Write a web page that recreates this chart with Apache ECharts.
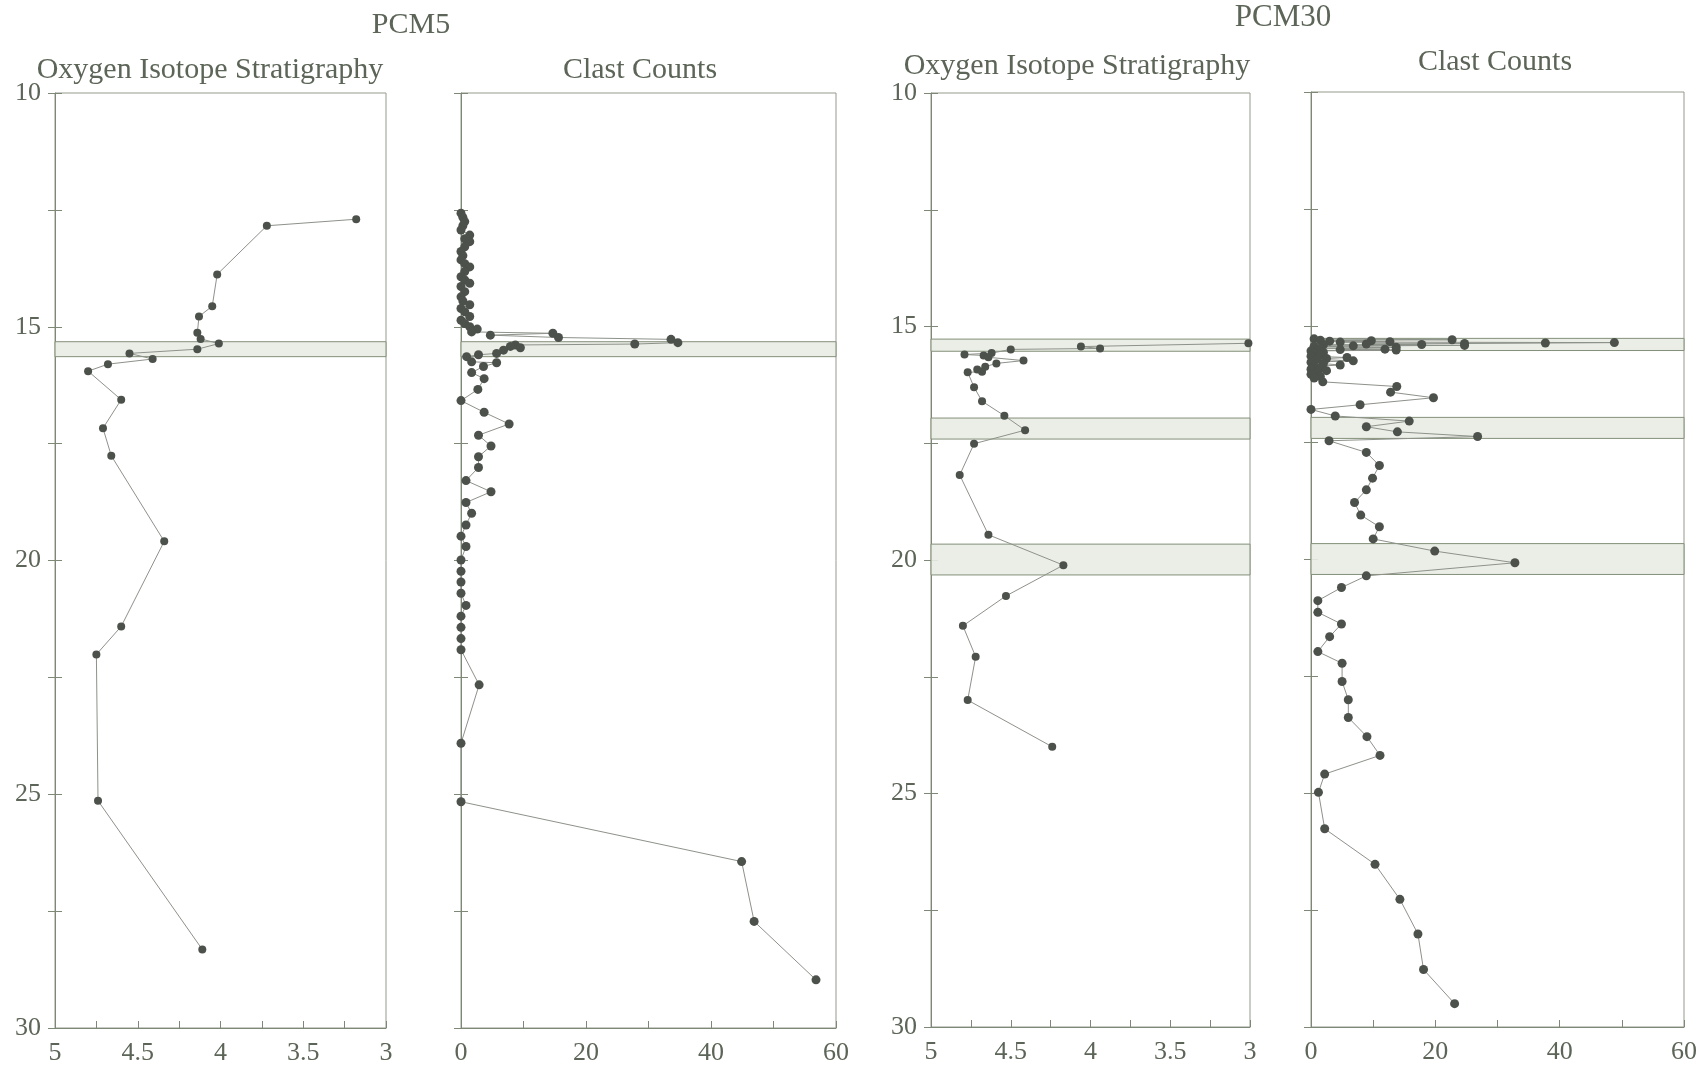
<!DOCTYPE html>
<html>
<head>
<meta charset="utf-8">
<title>PCM5 / PCM30</title>
<script src="https://cdn.jsdelivr.net/npm/echarts@6/dist/echarts.min.js"></script>
<style>
  html, body { margin: 0; padding: 0; background: #ffffff; }
  #chart { width: 1701px; height: 1074px; }
</style>
</head>
<body>
<div id="chart"></div>
<script>
// ---- Core PCM5: oxygen isotope stratigraphy (depth, value) ----
const pcm5IsoDepth = [12.70, 12.84, 13.88, 14.56, 14.78, 15.13, 15.26, 15.36, 15.48, 15.57, 15.69, 15.80, 15.95, 16.56, 17.17, 17.76, 19.59, 21.41, 22.01, 25.14, 28.32];
const pcm5IsoValue = [3.18, 3.72, 4.02, 4.05, 4.13, 4.14, 4.12, 4.01, 4.14, 4.55, 4.41, 4.68, 4.80, 4.60, 4.71, 4.66, 4.34, 4.60, 4.75, 4.74, 4.11];

// ---- Core PCM5: clast counts ----
const pcm5ClastDepth = [12.57, 12.66, 12.75, 12.84, 12.93, 13.04, 13.12, 13.18, 13.29, 13.39, 13.48, 13.57, 13.65, 13.72, 13.82, 13.93, 14.00, 14.07, 14.14, 14.25, 14.36, 14.45, 14.53, 14.61, 14.68, 14.78, 14.86, 14.93, 15.00, 15.05, 15.11,
  15.14, 15.18, 15.23, 15.27, 15.34, 15.37, 15.39, 15.42, 15.45, 15.50, 15.57, 15.60, 15.64, 15.75, 15.77, 15.85, 15.98, 16.11, 16.34, 16.58, 16.83, 17.08, 17.32, 17.55, 17.78, 18.01, 18.29, 18.53, 18.76, 18.99, 19.24, 19.48, 19.70, 19.99, 20.23, 20.46, 20.70, 20.96, 21.19, 21.43, 21.67, 21.91, 22.66, 23.91, 25.16, 26.44, 27.72, 28.97];
const pcm5ClastValue = [0, 0.3, 0.6, 0.3, 0, 1.4, 0.6, 1.4, 0.6, 0, 0.3, 0, 0.6, 1.4, 0.6, 0, 0.6, 1.4, 0, 0.6, 0, 0.3, 1.4, 0, 0.6, 1.4, 0, 0.6, 1.4, 2.6, 1.7,
  14.7, 4.7, 15.6, 33.6, 34.7, 27.8, 8.7, 7.9, 9.5, 6.8, 5.7, 2.8, 0.9, 1.7, 5.7, 3.6, 1.7, 3.7, 2.7, 0, 3.7, 7.7, 2.8, 4.8, 2.8, 2.8, 0.8, 4.8, 0.8, 1.7, 0.8, 0, 0.8, 0, 0, 0, 0, 0.8, 0, 0, 0, 0, 2.9, 0, 0, 44.9, 46.9, 56.8];

// ---- Core PCM30: oxygen isotope stratigraphy ----
const pcm30IsoDepth = [15.36, 15.43, 15.47, 15.49, 15.57, 15.60, 15.62, 15.66, 15.73, 15.79, 15.86, 15.92, 15.97, 15.98, 16.30, 16.60, 16.91, 17.22, 17.51, 18.18, 19.46, 20.11, 20.77, 21.41, 22.07, 23.00, 24.00];
const pcm30IsoValue = [3.01, 4.06, 3.94, 4.50, 4.62, 4.79, 4.67, 4.64, 4.42, 4.59, 4.66, 4.71, 4.68, 4.77, 4.73, 4.68, 4.54, 4.41, 4.73, 4.82, 4.64, 4.17, 4.53, 4.80, 4.72, 4.77, 4.24];

// ---- Core PCM30: clast counts ----
const pcm30ClastDepth = [15.28, 15.30, 15.31, 15.32, 15.33, 15.34, 15.35, 15.36, 15.37, 15.38, 15.39, 15.40, 15.41, 15.42, 15.43, 15.44, 15.46, 15.48, 15.50, 15.51, 15.52, 15.54, 15.57, 15.60, 15.62, 15.65, 15.68, 15.70, 15.72, 15.75, 15.78, 15.81, 15.84, 15.87, 15.90, 15.93, 15.96, 16.00, 16.04, 16.08, 16.12,
  16.20, 16.30, 16.42, 16.54, 16.69, 16.79, 16.93, 17.04, 17.16, 17.27, 17.37, 17.46, 17.71, 17.99, 18.26, 18.51, 18.78, 19.05, 19.30, 19.56, 19.82, 20.07, 20.35, 20.60, 20.88, 21.13, 21.38, 21.65, 21.97, 22.22, 22.61, 23.00, 23.38, 23.79, 24.19, 24.59, 24.98, 25.76, 26.52, 27.27, 28.01, 28.77, 29.50];
const pcm30ClastValue = [0.5, 22.7, 1.5, 9.7, 3.0, 12.7, 4.7, 48.8, 37.7, 24.7, 8.9, 17.8, 2.0, 24.7, 6.8, 0.5, 13.7, 1.5, 11.9, 4.7, 13.7, 0, 2.0, 0.5, 1.5, 0, 5.8, 2.5, 1.0, 6.8, 0, 2.0, 4.7, 0.5, 1.5, 0, 2.5, 1.0, 0, 1.5, 0.5,
  1.9, 13.8, 12.8, 19.7, 7.9, 0, 3.9, 15.8, 8.9, 13.9, 26.8, 2.9, 8.9, 11.0, 9.9, 8.9, 7.0, 8.0, 11.0, 10.0, 19.9, 32.8, 8.9, 4.9, 1.1, 1.1, 4.9, 3.0, 1.1, 5.0, 5.0, 6.0, 6.0, 9.0, 11.1, 2.2, 1.2, 2.2, 10.3, 14.3, 17.2, 18.1, 23.1];

// ---- Shaded depth intervals ----
const pcm5Bands = [[15.32, 15.64]];
const pcm30Bands = [[15.27, 15.53], [16.96, 17.41], [19.66, 20.32]];

// ---- Axis ranges and tick labels ----
const depthRange = [10, 30];
const isoRange = [3, 5];
const clastRange = [0, 60];
const depthLabels = [10, 15, 20, 25, 30];
const isoLabels = [5, 4.5, 4, 3.5, 3];
const clastLabels = [0, 20, 40, 60];

const FONT = '"Liberation Serif", "Times New Roman", Times, serif';
const TEXT = '#5c6557';
const AXIS = '#7d8876';
const FRAME = '#939b8d';
const LINE = '#8d928a';
const DOT = '#4c514b';

const grids = [
  { left: 55, top: 93, width: 331, height: 935 },
  { left: 461, top: 93, width: 375, height: 935 },
  { left: 931, top: 93, width: 319, height: 934 },
  { left: 1311, top: 92, width: 373, height: 935 }
].map(g => Object.assign({ show: true, borderColor: FRAME, borderWidth: 1, backgroundColor: 'transparent' }, g));

function onList(list) {
  return v => (list.some(t => Math.abs(t - v) < 1e-6) ? String(v) : '');
}

function xAxisFor(gi, range, step, labels, inverse) {
  return {
    type: 'value', gridIndex: gi, min: range[0], max: range[1], interval: step, inverse: inverse,
    position: 'bottom',
    axisLine: { show: true, onZero: false, lineStyle: { color: AXIS, width: 1 } },
    axisTick: { show: true, inside: true, length: 7, lineStyle: { color: AXIS } },
    axisLabel: { show: true, margin: 12, color: TEXT, fontFamily: FONT, fontSize: 26, formatter: onList(labels) },
    splitLine: { show: false }
  };
}

function yAxesFor(gi, withLabels) {
  const base = {
    type: 'value', gridIndex: gi, min: depthRange[0], max: depthRange[1], interval: 2.5, inverse: true,
    position: 'left', splitLine: { show: false }
  };
  return [
    Object.assign({}, base, {
      axisLine: { show: true, onZero: false, lineStyle: { color: AXIS, width: 1 } },
      axisTick: { show: true, inside: false, length: 7, lineStyle: { color: AXIS } },
      axisLabel: { show: withLabels, margin: 14, color: TEXT, fontFamily: FONT, fontSize: 26, formatter: onList(depthLabels) }
    }),
    Object.assign({}, base, {
      axisLine: { show: false, onZero: false },
      axisTick: { show: true, inside: true, length: 7, lineStyle: { color: AXIS } },
      axisLabel: { show: false }
    })
  ];
}

const xAxes = [
  xAxisFor(0, isoRange, 0.25, isoLabels, true),
  xAxisFor(1, clastRange, 10, clastLabels, false),
  xAxisFor(2, isoRange, 0.25, isoLabels, true),
  xAxisFor(3, clastRange, 10, clastLabels, false)
];
const yAxes = [].concat(yAxesFor(0, true), yAxesFor(1, false), yAxesFor(2, true), yAxesFor(3, false));

function zip(depth, value) {
  return depth.map((d, i) => [value[i], d]);
}

function profile(name, gi, depth, value, bands, dotSize) {
  return {
    name: name, type: 'line', xAxisIndex: gi, yAxisIndex: gi * 2,
    data: zip(depth, value),
    symbol: 'circle', symbolSize: dotSize, showSymbol: true,
    lineStyle: { color: LINE, width: 1 },
    itemStyle: { color: DOT, borderWidth: 0 },
    animation: false, z: 3,
    markArea: {
      silent: true,
      itemStyle: { color: 'rgba(233,236,228,0.9)', borderColor: '#849079', borderWidth: 1 },
      data: bands.map(b => [{ yAxis: b[0] }, { yAxis: b[1] }])
    }
  };
}

const series = [
  profile('PCM5 δ18O', 0, pcm5IsoDepth, pcm5IsoValue, pcm5Bands, 8),
  profile('PCM5 clasts', 1, pcm5ClastDepth, pcm5ClastValue, pcm5Bands, 9),
  profile('PCM30 δ18O', 2, pcm30IsoDepth, pcm30IsoValue, pcm30Bands, 8),
  profile('PCM30 clasts', 3, pcm30ClastDepth, pcm30ClastValue, pcm30Bands, 9)
];

function label(text, x, y, size) {
  return {
    type: 'text', x: x, y: y, silent: true,
    style: { text: text, fill: TEXT, font: size + 'px ' + FONT, textAlign: 'center', textVerticalAlign: 'middle' }
  };
}

const headings = [
  label('PCM5', 411, 25, 30),
  label('PCM30', 1283, 18, 31),
  label('Oxygen Isotope Stratigraphy', 210, 70, 30),
  label('Clast Counts', 640, 70, 30),
  label('Oxygen Isotope Stratigraphy', 1077, 66, 30),
  label('Clast Counts', 1495, 62, 30)
];

const chart = echarts.init(document.getElementById('chart'), null, { renderer: 'canvas' });
chart.setOption({
  backgroundColor: '#ffffff',
  animation: false,
  grid: grids,
  xAxis: xAxes,
  yAxis: yAxes,
  series: series,
  graphic: headings
});
</script>
</body>
</html>
